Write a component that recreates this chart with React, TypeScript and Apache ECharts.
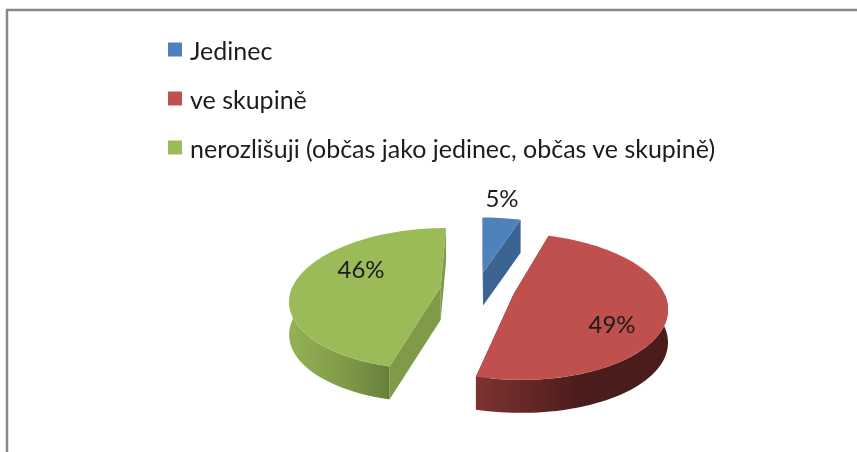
import React, { useEffect, useRef } from "react";
import * as echarts from "echarts";

const categories = ["Jedinec", "ve skupině", "nerozlišuji (občas jako jedinec, občas ve skupině)"];
const shares = [5, 49, 46];
const topColors = ["#4F81BD", "#C0504D", "#9BBB59"];
const sideColors = ["#3B6493", "#5A2322", "#7F9B48"];
const wallStops = [
  ["#3B6493", "#3B6493", "#3B6493"],
  ["#7D3331", "#4A1C1B", "#4A1C1B"],
  ["#94B156", "#7F9B48", "#66803A"],
];
const labelPositions = [
  [502, 197],
  [612, 323],
  [361, 268],
];

const CX = 477.5, CY = 289, RX = 149, RY = 69.5, PERSP = 0.17, EXPLODE = 0.25, DEPTH = 33;

function project(u: number, v: number, drop = 0): number[] {
  const s = 1 / (1 - PERSP * v);
  return [CX + RX * u * s, CY + RY * v * s + drop];
}

function sliceRange(index: number): number[] {
  const total = shares.reduce((a, b) => a + b, 0);
  const before = shares.slice(0, index).reduce((a, b) => a + b, 0);
  return [(before / total) * 360, ((before + shares[index]) / total) * 360];
}

function rimPoints(a0: number, a1: number, ex: number, ey: number, drop = 0): number[][] {
  const pts: number[][] = [];
  const n = Math.max(2, Math.ceil(Math.abs(a1 - a0) / 2));
  for (let i = 0; i <= n; i++) {
    const t = ((a0 + ((a1 - a0) * i) / n) * Math.PI) / 180;
    pts.push(project(ex + Math.sin(t), ey - Math.cos(t), drop));
  }
  return pts;
}

function makeRenderItem(index: number) {
  return () => {
    const [a0, a1] = sliceRange(index);
    const mid = (((a0 + a1) / 2) * Math.PI) / 180;
    const ex = EXPLODE * Math.sin(mid);
    const ey = -EXPLODE * Math.cos(mid);
    const apex = project(ex, ey);
    const apexLow = project(ex, ey, DEPTH);
    const children: any[] = [];
    [a0, a1].forEach((a) => {
      const top = rimPoints(a, a, ex, ey)[0];
      const low = rimPoints(a, a, ex, ey, DEPTH)[0];
      children.push({
        type: "polygon",
        shape: { points: [apex, top, low, apexLow] },
        style: { fill: sideColors[index] },
      });
    });
    const w0 = Math.max(a0, 90);
    const w1 = Math.min(a1, 270);
    if (w1 > w0) {
      const upper = rimPoints(w0, w1, ex, ey);
      const lower = rimPoints(w0, w1, ex, ey, DEPTH).reverse();
      children.push({
        type: "polygon",
        shape: { points: upper.concat(lower) },
        style: {
          fill: {
            type: "linear", x: 0, y: 0, x2: 1, y2: 0,
            colorStops: [
              { offset: 0, color: wallStops[index][0] },
              { offset: 0.55, color: wallStops[index][1] },
              { offset: 1, color: wallStops[index][2] },
            ],
          },
        },
      });
    }
    children.push({
      type: "polygon",
      shape: { points: [apex].concat(rimPoints(a0, a1, ex, ey)) },
      style: { fill: topColors[index] },
    });
    children.push({
      type: "text",
      x: labelPositions[index][0],
      y: labelPositions[index][1],
      style: {
        text: `${shares[index]}%`,
        fill: "#1c1c1c",
        font: "24px Lato",
        align: "center",
        verticalAlign: "middle",
      },
    });
    return { type: "group", children };
  };
}

export default function App() {
  const ref = useRef<HTMLDivElement>(null);
  useEffect(() => {
    document.body.style.margin = "0";
    const chart = echarts.init(ref.current!, null, { renderer: "svg" });
    chart.setOption({
      animation: false,
      backgroundColor: "#ffffff",
      legend: {
        orient: "vertical",
        left: 163,
        top: 32,
        itemWidth: 14,
        itemHeight: 14,
        itemGap: 24,
        icon: "rect",
        textStyle: { fontFamily: "Lato", fontSize: 25, color: "#1c1c1c", padding: [0, 0, 0, 3] },
        data: categories.map((name, i) => ({ name, itemStyle: { color: topColors[i] } })),
      },
      graphic: [
        {
          type: "polyline",
          shape: { points: [[7, 452], [7, 10], [857, 10]] },
          style: { stroke: "#878787", lineWidth: 2.5, fill: "none" },
        },
      ],
      series: categories.map((name, i) => ({
        type: "custom",
        name,
        coordinateSystem: "none",
        silent: true,
        itemStyle: { color: topColors[i] },
        renderItem: makeRenderItem(i),
        data: [[shares[i]]],
      })),
    });
    return () => chart.dispose();
  }, []);
  return <div ref={ref} style={{ width: 857, height: 452, filter: "blur(0.5px)" }} />;
}
